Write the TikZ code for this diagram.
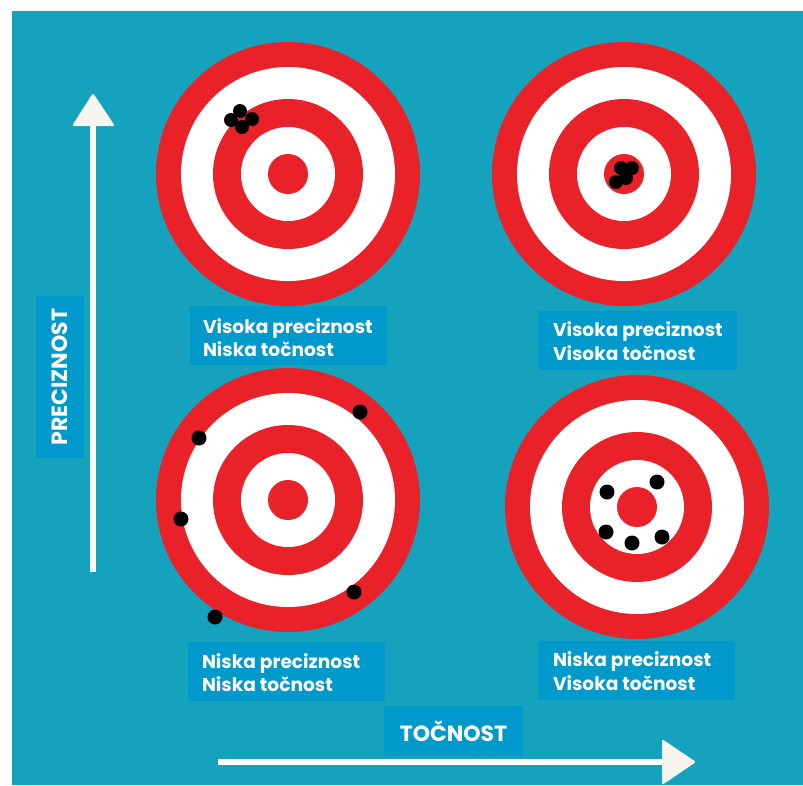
\documentclass[tikz,border=0pt]{standalone}
\usepackage{fontspec}
\setmainfont{Poppins}
\definecolor{bgteal}{HTML}{14A2BC}
\definecolor{boxblue}{HTML}{0099CC}
\definecolor{tred}{HTML}{E92129}
\definecolor{offwhite}{HTML}{F7F5F0}
\tikzset{
  target/.pic={
    \fill[tred] (0,0) circle (132pt);
    \fill[white] (0,0) circle (107pt);
    \fill[tred] (0,0) circle (75pt);
    \fill[white] (0,0) circle (47pt);
    \fill[tred] (0,0) circle (20pt);
  },
  hit/.style={fill=black},
  labelbox/.style={fill=boxblue, inner sep=0pt, minimum height=59pt, anchor=center},
  labeltext/.style={text=white, font=\bfseries\fontsize{18.6}{23.5}\selectfont,
    align=left, inner sep=0pt, anchor=west},
  axisbox/.style={fill=boxblue, text=white, font=\bfseries\fontsize{22}{26}\selectfont, inner sep=0pt, anchor=center},
  shaft/.style={draw=white, line width=6pt},
  head/.style={fill=offwhite, rounded corners=1.5pt}
}
\begin{document}
\begin{tikzpicture}[x=1pt,y=-1pt]
\useasboundingbox (0,0) rectangle (803,785);
\fill[bgteal] (12,11) rectangle (803,785);

% targets
\pic (tl) at (288,174) {target};
\pic (tr) at (624,174) {target};
\pic (bl) at (288,500) {target};
\pic (br) at (637,507) {target};

% hits: top-left (high precision, low accuracy)
\foreach \p in {(240,111),(231,120),(252,119),(242,127)} \fill[hit] \p circle (7pt);
% top-right (high precision, high accuracy)
\foreach \p in {(621,168),(632,168),(616,182),(626,178)} \fill[hit] \p circle (7pt);
% bottom-left (low precision, low accuracy)
\foreach \p in {(360,412),(199,438),(181,519),(354,592),(215,617)} \fill[hit] \p circle (7.5pt);
% bottom-right (low precision, high accuracy)
\foreach \p in {(607,492),(657,482),(606,532),(632,543),(662,537)} \fill[hit] \p circle (7.5pt);

% labels
\node[labelbox, minimum width=197pt] (ltl) at (288.5,335.5) {};
\node[labeltext] (ttl) at ([xshift=13pt,yshift=-2pt]ltl.west) {Visoka preciznost\\Niska točnost};
\node[labelbox, minimum width=198pt] (ltr) at (638,340) {};
\node[labeltext] (ttr) at ([xshift=14pt,yshift=-1pt]ltr.west) {Visoka preciznost\\Visoka točnost};
\node[labelbox, minimum width=197pt] (lbl) at (286.5,671.5) {};
\node[labeltext] (tbl) at ([xshift=14pt,yshift=-1pt]lbl.west) {Niska preciznost\\Niska točnost};
\node[labelbox, minimum width=196pt] (lbr) at (637,670) {};
\node[labeltext] (tbr) at ([xshift=14pt,yshift=-1pt]lbr.west) {Niska preciznost\\Visoka točnost};

% axis labels
\node[axisbox, minimum width=162pt, minimum height=48pt, rotate=90] (prec) at (60,377) {PRECIZNOST};
\node[axisbox, minimum width=139pt, minimum height=50pt] (toc) at (453.5,731) {TOČNOST};

% axes
\coordinate (vbot) at (93,572);
\coordinate (vbase) at (93,126);
\coordinate (vtip) at (93,93);
\draw[shaft] (vbot) -- (vbase);
\fill[head] (vtip) -- ([xshift=22pt]vbase) -- ([xshift=-21pt]vbase) -- cycle;

\coordinate (hstart) at (218,762);
\coordinate (hbase) at (662,762);
\coordinate (htip) at (696,762);
\draw[shaft] (hstart) -- (hbase);
\fill[head] (htip) -- ([yshift=-23pt]hbase) -- ([yshift=23pt]hbase) -- cycle;
\end{tikzpicture}
\end{document}
